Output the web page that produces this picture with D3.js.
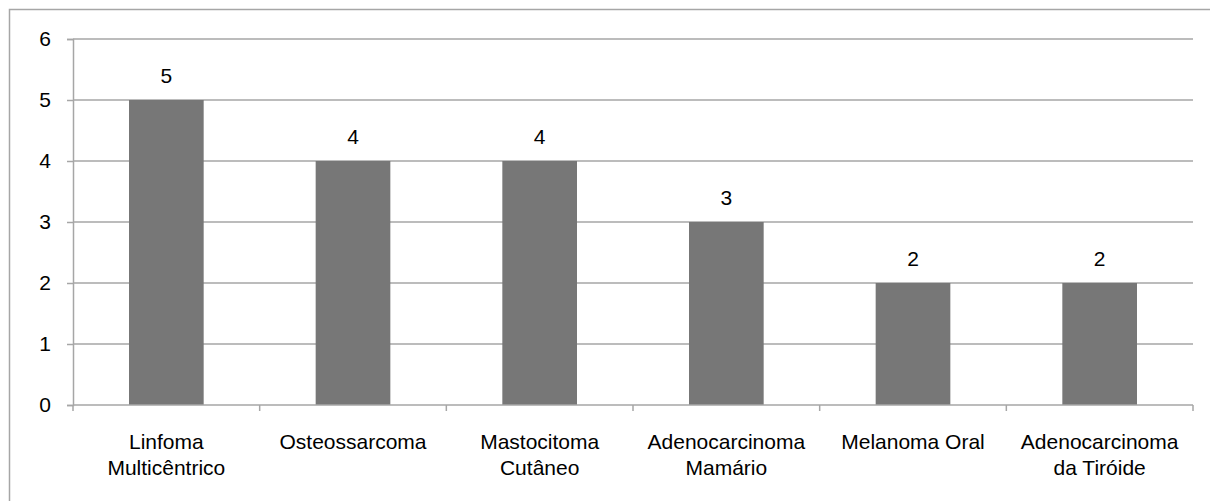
<!DOCTYPE html>
<html><head><meta charset="utf-8">
<script src="https://cdn.jsdelivr.net/npm/d3@7/dist/d3.min.js"></script>
<style>html,body{margin:0;padding:0;background:#fff;}svg{display:block;}</style>
</head><body>
<script>
const categories = [["Linfoma","Multicêntrico"],["Osteossarcoma"],["Mastocitoma","Cutâneo"],["Adenocarcinoma","Mamário"],["Melanoma Oral"],["Adenocarcinoma","da Tiróide"]];
const values = [5,4,4,3,2,2];
const yTicks = [0,1,2,3,4,5,6];

const W = 1210, H = 501;
const m = {left:73, right:1193, top:39, bottom:405};
const font = "'Liberation Sans', Arial, sans-serif";
const fs = 21;
const svg = d3.select("body").append("svg").attr("width",W).attr("height",H);

svg.append("rect").attr("x",9.5).attr("y",9.5).attr("width",1210).attr("height",520)
  .attr("fill","none").attr("stroke","#a6a6a6").attr("stroke-width",1.5);

const idx = categories.map((d,i)=>i);
const x = d3.scaleBand().domain(idx).range([m.left,m.right]).paddingInner(0.6).paddingOuter(0.3);
const y = d3.scaleLinear().domain([0,6]).range([m.bottom,m.top]);

// gridlines
svg.append("g").selectAll("line").data(yTicks.filter(t=>t>0)).join("line")
  .attr("x1",m.left).attr("x2",m.right).attr("y1",d=>y(d)).attr("y2",d=>y(d))
  .attr("stroke","#a6a6a6").attr("stroke-width",1.5);

// bars
svg.append("g").selectAll("rect").data(values).join("rect")
  .attr("x",(d,i)=>x(i)).attr("width",x.bandwidth())
  .attr("y",d=>y(d)).attr("height",d=>y(0)-y(d)).attr("fill","#777777");

// y axis
const yAxis = d3.axisLeft(y).tickValues(yTicks).tickSize(6).tickPadding(16).tickFormat(d3.format("d"));
const gy = svg.append("g").attr("transform",`translate(${m.left},0)`).call(yAxis);
gy.select(".domain").attr("stroke","#a6a6a6").attr("stroke-width",1.5);
gy.selectAll(".tick line").attr("stroke","#a6a6a6").attr("stroke-width",1.5);
gy.selectAll("text").attr("font-family",font).attr("font-size",fs).attr("fill","#000");

// x axis line and boundary ticks
const bounds = d3.range(categories.length+1).map(i=> i<categories.length ? x(i)-x.bandwidth()*0.75 : x(i-1)+x.bandwidth()*1.75);
svg.append("line").attr("x1",m.left).attr("x2",m.right).attr("y1",y(0)).attr("y2",y(0))
  .attr("stroke","#a6a6a6").attr("stroke-width",1.5);
svg.append("g").selectAll("line").data(bounds).join("line")
  .attr("x1",d=>d).attr("x2",d=>d).attr("y1",y(0)).attr("y2",y(0)+6)
  .attr("stroke","#a6a6a6").attr("stroke-width",1.5);

// category labels
const lab = svg.append("g").selectAll("text").data(categories).join("text")
  .attr("x",(d,i)=>x(i)+x.bandwidth()/2).attr("y",y(0)+44)
  .attr("text-anchor","middle").attr("font-family",font).attr("font-size",fs).attr("fill","#000");
lab.selectAll("tspan").data(d=>d).join("tspan")
  .attr("x",function(){return this.parentNode.getAttribute("x");})
  .attr("dy",(d,i)=>i===0?0:26).text(d=>d);

// value labels
svg.append("g").selectAll("text").data(values).join("text")
  .attr("x",(d,i)=>x(i)+x.bandwidth()/2).attr("y",d=>y(d)-17)
  .attr("text-anchor","middle").attr("font-family",font).attr("font-size",fs).attr("fill","#000")
  .text(d=>d);
</script>
</body></html>
